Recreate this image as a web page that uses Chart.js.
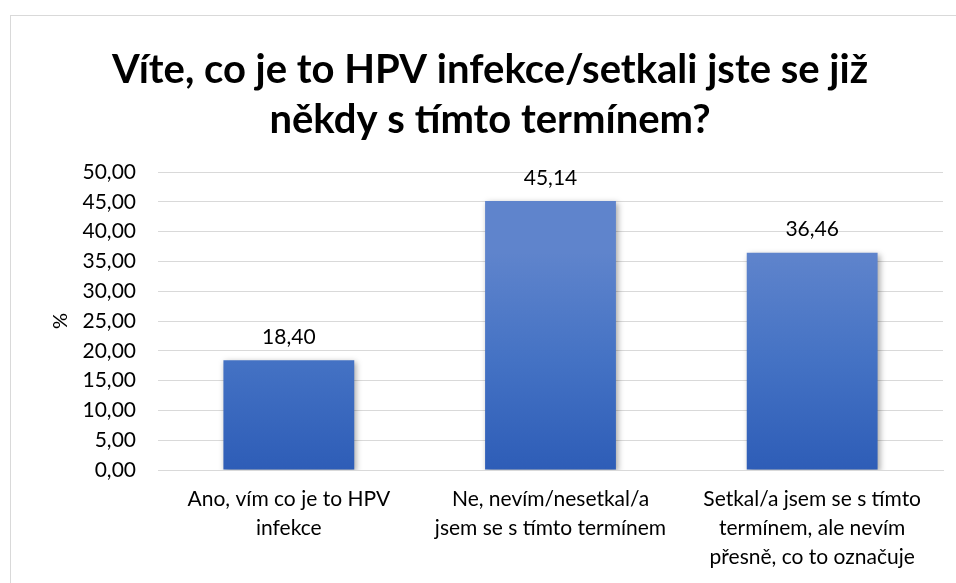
<!DOCTYPE html>
<html>
<head>
<meta charset="utf-8">
<script src="https://cdn.jsdelivr.net/npm/chart.js@4/dist/chart.umd.min.js"></script>
<style>
  html, body { margin: 0; padding: 0; background: #fff; overflow: hidden; }
  #frame {
    position: absolute; left: 10px; top: 15px;
    width: 960px; height: 580px;
    border: 1px solid #d9d9d9;
  }
  #wrap { position: absolute; left: 0; top: 0; width: 945px; height: 571px; }
</style>
</head>
<body>
<div id="frame">
  <div id="wrap"><canvas id="chart"></canvas></div>
</div>
<script>
// answers to the HPV question, values in percent
var categories = [
  ["Ano, vím co je to HPV", "infekce"],
  ["Ne, nevím/nesetkal/a", "jsem se s tímto termínem"],
  ["Setkal/a jsem se s tímto", "termínem, ale nevím", "přesně, co to označuje"]
];
var percents = [18.40, 45.14, 36.46];
var titleLines = ["Víte, co je to HPV infekce/setkali jste se již", "někdy s tímto termínem?"];

function fmt(v) {
  return v.toFixed(2).replace(".", ",");
}

var fontFamily = "Lato, 'Open Sans', sans-serif";

// gradient per bar + soft shadow, like the office chart
var barLook = {
  id: "barLook",
  beforeDatasetDraw: function (chart, args) {
    var ctx = chart.ctx;
    args.meta.data.forEach(function (el) {
      var g = ctx.createLinearGradient(0, el.y, 0, el.base);
      g.addColorStop(0, "#5f84cc");
      g.addColorStop(0.5, "#4472c4");
      g.addColorStop(1, "#2e5db7");
      el.options.backgroundColor = g;
    });
    ctx.save();
    ctx.shadowColor = "rgba(0,0,0,0.35)";
    ctx.shadowBlur = 6;
    ctx.shadowOffsetX = 2;
    ctx.shadowOffsetY = 2;
  },
  afterDatasetDraw: function (chart) {
    chart.ctx.restore();
  }
};

var valueLabels = {
  id: "valueLabels",
  afterDatasetsDraw: function (chart) {
    var ctx = chart.ctx;
    var meta = chart.getDatasetMeta(0);
    ctx.save();
    ctx.font = "21px " + fontFamily;
    ctx.fillStyle = "#000";
    ctx.textAlign = "center";
    ctx.textBaseline = "middle";
    meta.data.forEach(function (el, i) {
      ctx.fillText(fmt(percents[i]), el.x, el.y - 23);
    });
    ctx.restore();
  }
};

new Chart(document.getElementById("chart"), {
  type: "bar",
  data: {
    labels: categories,
    datasets: [{
      data: percents,
      backgroundColor: "#4472c4",
      borderWidth: 0,
      barPercentage: 0.5,
      categoryPercentage: 1
    }]
  },
  options: {
    responsive: true,
    maintainAspectRatio: false,
    animation: false,
    layout: { padding: { left: 26, right: 13, top: 0, bottom: 0 } },
    plugins: {
      legend: { display: false },
      tooltip: { enabled: false },
      title: {
        display: true,
        text: titleLines,
        color: "#000",
        font: { family: fontFamily, size: 40, weight: "bold", lineHeight: 1.25 },
        padding: { top: 29, bottom: 27 }
      }
    },
    scales: {
      x: {
        grid: { display: false, drawTicks: false },
        border: { display: true, color: "#d9d9d9", width: 1 },
        ticks: {
          color: "#000",
          font: { family: fontFamily, size: 21, lineHeight: 1.38 },
          padding: 15,
          maxRotation: 0,
          autoSkip: false
        }
      },
      y: {
        min: 0,
        max: 50,
        afterFit: function (scale) { scale.width = 121; },
        grid: { color: "#d9d9d9", lineWidth: 1, drawTicks: false },
        border: { display: false },
        ticks: {
          stepSize: 5,
          color: "#000",
          font: { family: fontFamily, size: 21 },
          padding: 22,
          callback: function (v) { return fmt(v); }
        },
        title: {
          display: true,
          text: "%",
          color: "#000",
          font: { family: fontFamily, size: 20 },
          padding: { top: 12, bottom: 0 }
        }
      }
    }
  },
  plugins: [barLook, valueLabels]
});
</script>
</body>
</html>
